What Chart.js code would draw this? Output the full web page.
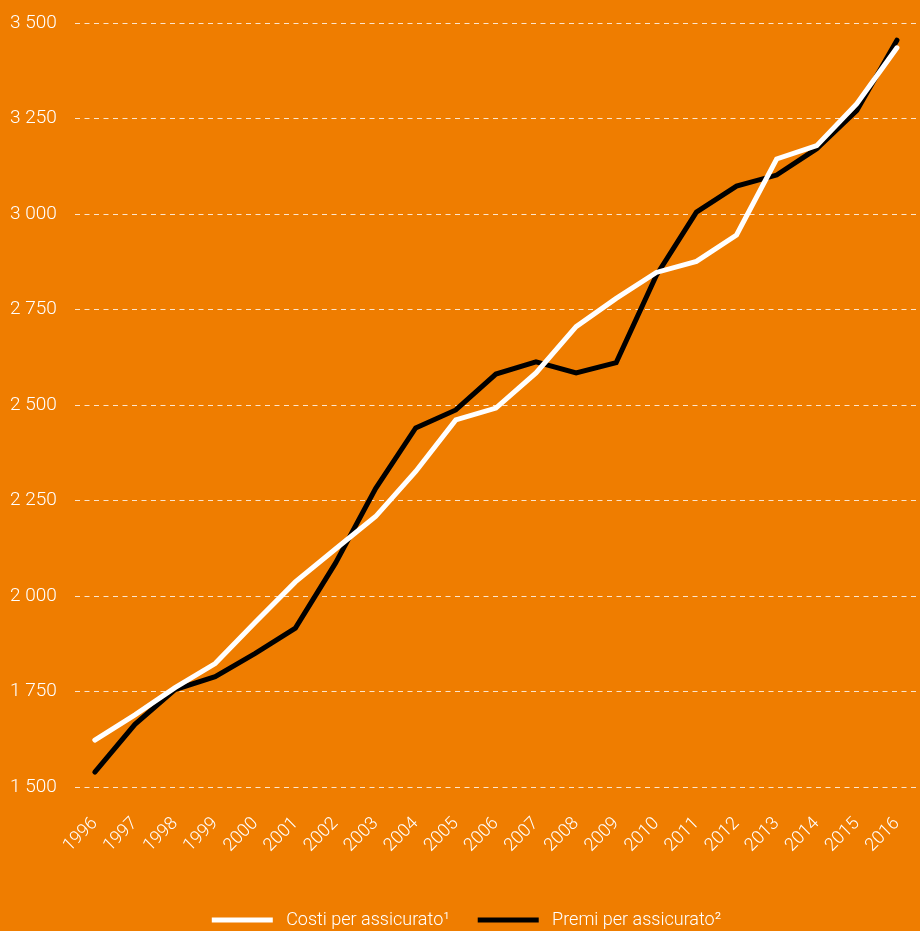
<!DOCTYPE html>
<html>
<head>
<meta charset="utf-8">
<script src="https://cdn.jsdelivr.net/npm/chart.js@4"></script>
<style>
  html, body { margin: 0; padding: 0; background: #ef7d00; }
  #wrap { width: 920px; height: 931px; position: relative; }
</style>
</head>
<body>
<div id="wrap"><canvas id="costChart"></canvas></div>
<script>
const years = ['1996', '1997', '1998', '1999', '2000', '2001', '2002', '2003', '2004', '2005', '2006',
    '2007', '2008', '2009', '2010', '2011', '2012', '2013', '2014', '2015', '2016'];
const costi = [1623, 1689, 1760, 1823, 1931, 2037, 2123, 2208, 2326, 2461, 2492,
    2584, 2705, 2779, 2847, 2876, 2945, 3144, 3179, 3289, 3435];
const premi = [1539, 1664, 1755, 1789, 1850, 1916, 2086, 2281, 2440, 2487, 2581,
    2613, 2584, 2611, 2839, 3005, 3073, 3102, 3171, 3271, 3455];
const yMin = 1500, yMax = 3500, yStep = 250;

Chart.defaults.color = '#ffffff';
Chart.defaults.font.family = "Roboto, 'Liberation Sans', sans-serif";
Chart.defaults.font.weight = 300;

function formatThousands(v){
    return String(v).replace(/\B(?=(\d{3})+(?!\d))/g, ' ');
}

// nudge the legend a bit to the right, as in the original
const legendShift = {
    id: 'legendShift',
    afterLayout(chart){
        chart.legend.left += 12;
        chart.legend.right += 12;
    }
};

const ctx = document.getElementById('costChart');
let costChart = new Chart(ctx, {
    type: 'line',
    data: {
        labels: years,
        datasets: [
            {
                label: ' Costi per assicurato\u00b9',
                data: costi,
                borderColor: '#ffffff',
                backgroundColor: '#ffffff',
                borderWidth: 5,
                borderCapStyle: 'round',
                pointRadius: 0,
                tension: 0
            },
            {
                label: ' Premi per assicurato\u00b2',
                data: premi,
                borderColor: '#000000',
                backgroundColor: '#000000',
                borderWidth: 5,
                borderCapStyle: 'round',
                pointRadius: 0,
                tension: 0
            }
        ]
    },
    options: {
        responsive: true,
        maintainAspectRatio: false,
        animation: false,
        layout: {
            padding: { top: 23, right: 3, left: -8, bottom: -8 }
        },
        scales: {
            x: {
                offset: true,
                grid: { display: false },
                border: { display: false },
                ticks: {
                    autoSkip: false,
                    maxRotation: 45,
                    minRotation: 45,
                    padding: 18,
                    font: { size: 18 }
                },
                afterFit: axis => {
                    axis.height = 96;
                    axis.paddingLeft = 0;
                    axis.paddingRight = 0;
                }
            },
            y: {
                min: yMin,
                max: yMax,
                grid: {
                    color: 'rgba(255,255,255,0.8)',
                    lineWidth: 1,
                    drawTicks: false
                },
                border: { display: false, dash: [5, 4.5] },
                ticks: {
                    stepSize: yStep,
                    padding: 18,
                    font: { size: 19 },
                    callback: v => formatThousands(v)
                },
                afterFit: axis => {
                    axis.paddingTop = 0;
                    axis.paddingBottom = 0;
                }
            }
        },
        plugins: {
            legend: {
                position: 'bottom',
                labels: {
                    usePointStyle: true,
                    pointStyle: 'line',
                    pointStyleWidth: 61,
                    padding: 28,
                    font: { size: 18 }
                }
            },
            tooltip: { enabled: false }
        }
    },
    plugins: [legendShift]
});
</script>
</body>
</html>
